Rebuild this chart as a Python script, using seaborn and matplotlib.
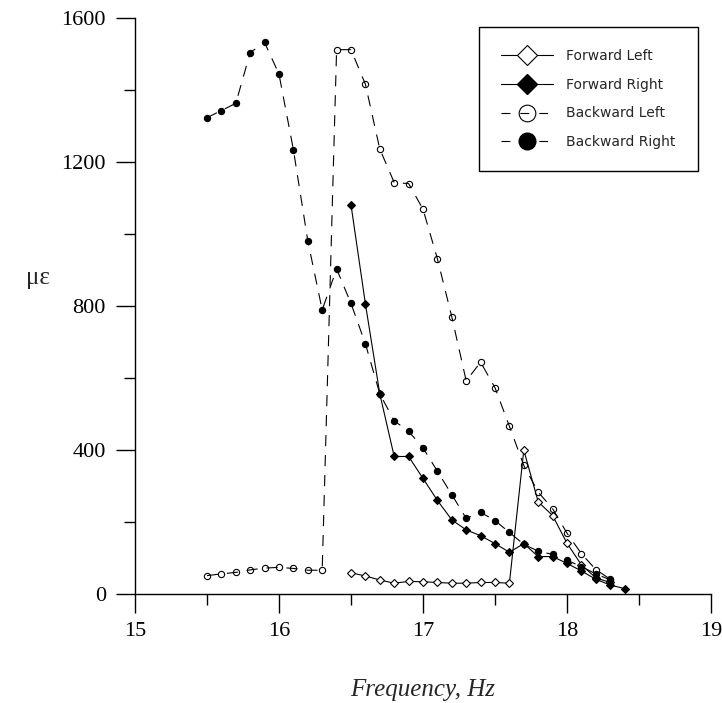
import matplotlib
matplotlib.use("Agg")
import matplotlib.pyplot as plt
from matplotlib.lines import Line2D
from matplotlib.ticker import MultipleLocator
import seaborn as sns
import numpy as np

# ---- data ----
fl_x = [16.5, 16.6, 16.7, 16.8, 16.9, 17.0, 17.1, 17.2, 17.3, 17.4, 17.5, 17.6,
        17.7, 17.8, 17.9, 18.0, 18.1, 18.2, 18.3]
fl_y = [59, 50, 39, 30, 35, 34, 32, 30, 30, 32, 32, 30,
        400, 256, 218, 141, 81, 45, 32]

fr_x = [16.5, 16.6, 16.7, 16.8, 16.9, 17.0, 17.1, 17.2, 17.3, 17.4, 17.5, 17.6,
        17.7, 17.8, 17.9, 18.0, 18.1, 18.2, 18.3, 18.4]
fr_y = [1081, 806, 556, 382, 382, 321, 260, 206, 178, 162, 140, 116,
        140, 104, 104, 85, 64, 41, 25, 15]

bl_x = [15.5, 15.6, 15.7, 15.8, 15.9, 16.0, 16.1, 16.2, 16.3,
        16.4, 16.5, 16.6, 16.7, 16.8, 16.9, 17.0, 17.1, 17.2, 17.3, 17.4, 17.5, 17.6,
        17.7, 17.8, 17.9, 18.0, 18.1, 18.2, 18.3]
bl_y = [51, 56, 60, 67, 72, 74, 71, 66, 66,
        1512, 1512, 1416, 1236, 1143, 1140, 1069, 931, 770, 592, 644, 573, 466,
        357, 283, 237, 169, 112, 68, 41]

br_x = [15.5, 15.6, 15.7, 15.8, 15.9, 16.0, 16.1, 16.2, 16.3, 16.4,
        16.5, 16.6, 16.7, 16.8, 16.9, 17.0, 17.1, 17.2, 17.3, 17.4, 17.5, 17.6,
        17.7, 17.8, 17.9, 18.0, 18.1, 18.2, 18.3]
br_y = [1323, 1343, 1363, 1504, 1532, 1444, 1234, 981, 789, 903,
        807, 695, 556, 481, 452, 406, 341, 276, 210, 227, 204, 171,
        138, 119, 110, 94, 76, 56, 39]

labels = ["Forward Left", "Forward Right", "Backward Left", "Backward Right"]
x_ticks = [15, 16, 17, 18, 19]
y_ticks = [0, 400, 800, 1200, 1600]

sns.set_theme(style="white")
plt.rcParams["font.family"] = ["Liberation Serif", "DejaVu Serif"]

fig = plt.figure(figsize=(7.22, 7.03), dpi=100)
ax = fig.add_axes([135 / 722, 1 - 594 / 703, (711 - 135) / 722, (594 - 18) / 703])

lw = 0.8
dash = (0, (10, 8))
series = [
    (fl_x, fl_y, dict(marker="D", markersize=3.8, markerfacecolor="white", linestyle="-")),
    (fr_x, fr_y, dict(marker="D", markersize=3.8, markerfacecolor="black", linestyle="-")),
    (bl_x, bl_y, dict(marker="o", markersize=4.5, markerfacecolor="none", linestyle=dash)),
    (br_x, br_y, dict(marker="o", markersize=4.5, markerfacecolor="black", linestyle=dash)),
]
for xs, ys, kw in series:
    sns.lineplot(x=xs, y=ys, ax=ax, color="black", linewidth=lw,
                 markeredgecolor="black", markeredgewidth=0.8, sort=False,
                 estimator=None, **kw)

ax.set_xlim(15, 19)
ax.set_ylim(0, 1600)
ax.set_xticks(x_ticks)
ax.set_yticks(y_ticks)
ax.xaxis.set_minor_locator(MultipleLocator(0.5))
ax.yaxis.set_minor_locator(MultipleLocator(200))
ax.tick_params(axis="both", which="major", direction="out", length=14, width=1,
               color="black", labelsize=16, labelcolor="black", bottom=True, left=True)
ax.tick_params(axis="x", which="major", pad=6)
ax.tick_params(axis="y", which="major", pad=7)
ax.tick_params(axis="both", which="minor", direction="out", length=8, width=1,
               color="black", bottom=True, left=True)
for s in ["top", "right"]:
    ax.spines[s].set_visible(False)
for s in ["left", "bottom"]:
    ax.spines[s].set_color("black")
    ax.spines[s].set_linewidth(1)
ax.set_xlabel("")
ax.set_ylabel("")
ax.grid(False)

fig.text(423 / 722, 1 - 690 / 703, "Frequency, Hz", ha="center", va="center",
         fontsize=18, style="italic")
fig.text(38 / 722, 1 - 278 / 703, "με", ha="center", va="center", fontsize=18)

# legend
handles = [
    Line2D([], [], color="black", lw=lw, marker="D", markersize=10,
           markerfacecolor="white", markeredgecolor="black", markeredgewidth=0.8, linestyle="-"),
    Line2D([], [], color="black", lw=lw, marker="D", markersize=10,
           markerfacecolor="black", markeredgecolor="black", linestyle="-"),
    Line2D([], [], color="black", lw=lw, marker="o", markersize=12,
           markerfacecolor="none", markeredgecolor="black", markeredgewidth=0.8,
           linestyle=(0, (8, 9))),
    Line2D([], [], color="black", lw=lw, marker="o", markersize=12,
           markerfacecolor="black", markeredgecolor="black", linestyle=(0, (8, 9))),
]
leg = ax.legend(handles, labels, loc="upper left",
                bbox_to_anchor=(479 / 722, 1 - 27 / 703), bbox_transform=fig.transFigure,
                frameon=True, fancybox=False, framealpha=1, edgecolor="black",
                prop={"family": "DejaVu Sans", "size": 10},
                handlelength=3.7, handletextpad=1.0, labelspacing=1.05,
                borderpad=1.6, borderaxespad=0)
leg.get_frame().set_linewidth(1)

fig.savefig("out.png", dpi=100)
